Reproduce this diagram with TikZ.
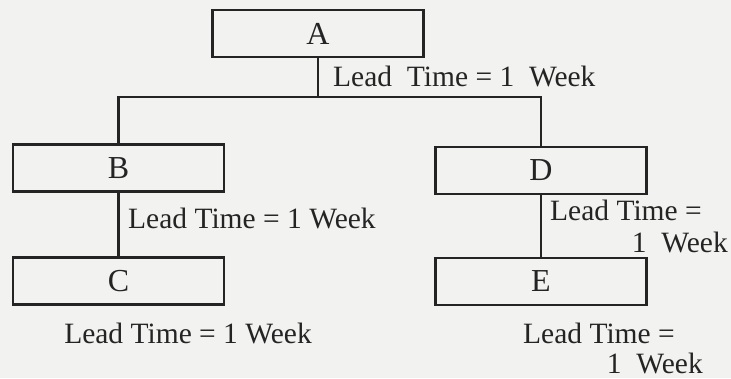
\documentclass[tikz,border=0pt]{standalone}
\usepackage{fontspec}
\setmainfont{Liberation Serif}
\definecolor{paper}{HTML}{F2F2F0}
\definecolor{ink}{HTML}{242424}
\begin{document}
\begin{tikzpicture}[x=1pt,y=-1pt,
  part/.style={draw=ink,line width=2.2pt,minimum width=211pt,minimum height=47pt,
    inner sep=0pt,text=ink,font=\fontsize{32}{34}\selectfont},
  link/.style={draw=ink,line width=2.2pt},
  lead/.style={inner sep=0pt,text=ink,font=\fontsize{29.5}{32}\selectfont}]
\fill[paper] (0,0) rectangle (731,378);
\useasboundingbox (0,0) rectangle (731,378);

% parts
\node[part] (A) at (318,33.5) {A};
\node[part] (B) at (118.5,168) {B};
\node[part] (C) at (118.5,281) {C};
\node[part] (D) at (541,170.5) {D};
\node[part] (E) at (541,281.5) {E};

% tree connectors
\coordinate (j) at (318,97);
\draw[link] (A.south) -- (j);
\draw[link] (B.north) |- (j) -| (D.north);
\draw[link] (B) -- (C);
\draw[link] (D) -- (E);

% lead times
\node[lead,anchor=west] (la) at (333,76) {Lead\ \ Time = 1\ \ Week};
\node[lead,anchor=west] (lb) at (128,218) {Lead Time = 1 Week};
\node[lead] (lc) at (188,333) {Lead Time = 1 Week};
\node[lead,anchor=west] (ld1) at (550,210) {Lead Time =};
\node[lead,anchor=east] (ld2) at (728,242) {1\ \ Week};
\node[lead,anchor=west] (le1) at (523,333) {Lead Time =};
\node[lead,anchor=east] (le2) at (703,363) {1\ \ Week};
\end{tikzpicture}
\end{document}
